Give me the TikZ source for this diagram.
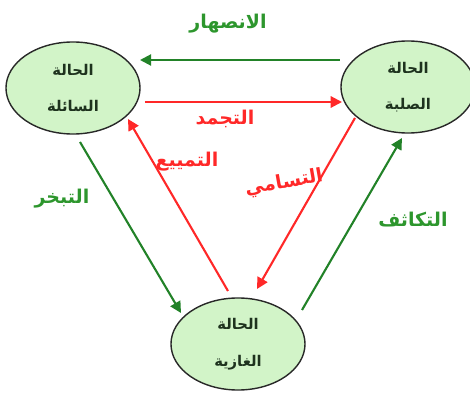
\documentclass[tikz,border=0pt]{standalone}
\usepackage{fontspec}
\newfontfamily\arabicfont[Script=Arabic]{DejaVu Sans}
\TeXXeTstate=1
\usetikzlibrary{calc, positioning}
\usetikzlibrary{arrows.meta}
\usetikzlibrary{shapes.geometric}
\definecolor{statefill}{RGB}{210,244,200}
\definecolor{stateline}{RGB}{40,40,40}
\definecolor{statetext}{RGB}{30,50,30}
\definecolor{heatgreen}{RGB}{34,130,40}
\definecolor{labelgreen}{RGB}{45,150,45}
\definecolor{coolred}{RGB}{255,40,40}

\begin{document}
\begin{tikzpicture}[x=0.025cm, y=-0.025cm,
  state/.style={ellipse, draw=stateline, line width=1pt, fill=statefill,
    minimum width=3.35cm, minimum height=2.3cm, inner sep=0pt,
    align=center, text=statetext,
    font=\arabicfont\bfseries\fontsize{10.5}{26}\selectfont},
  greenarrow/.style={draw=heatgreen, line width=1.5pt,
    -{Triangle[length=8pt,width=8pt]}},
  redarrow/.style={draw=coolred, line width=1.5pt,
    -{Triangle[length=8pt,width=8pt]}},
  greenlabel/.style={text=labelgreen, font=\arabicfont\bfseries\fontsize{13.5}{15}\selectfont},
  redlabel/.style={text=coolred, font=\arabicfont\bfseries\fontsize{13.5}{15}\selectfont}]

\useasboundingbox (0,0) rectangle (470,394);

% states
\node[state] (liquid) at (73,88) {\beginR الحالة\endR\\\beginR السائلة\endR};
\node[state] (solid) at (408,87) {\beginR الحالة\endR\\\beginR الصلبة\endR};
\node[state] (gas) at (238,344) {\beginR الحالة\endR\\\beginR الغازية\endR};

% transitions
\draw[greenarrow] ($(solid.center)+(-68,-27)$) -- ($(liquid.center)+(67,-28)$);
\draw[redarrow] ($(liquid.center)+(72,14)$) -- ($(solid.center)+(-66,15)$);
\draw[greenarrow] ($(liquid.center)+(7,54)$) -- ($(gas.center)+(-57,-31)$);
\draw[redarrow] ($(gas.center)+(-10,-53)$) -- ($(liquid.center)+(55,31)$);
\draw[redarrow] ($(solid.center)+(-53,31)$) -- ($(gas.center)+(19,-55)$);
\draw[greenarrow] ($(gas.center)+(64,-34)$) -- ($(solid.center)+(-6,51)$);

% labels
\node[greenlabel] (melt) at (228,24) {\beginR الانصهار\endR};
\node[redlabel] (freeze) at (225,119) {\beginR التجمد\endR};
\node[redlabel] (liquefy) at (187,162) {\beginR التمييع\endR};
\node[redlabel, rotate=10] (sublime) at (284,183) {\beginR التسامي\endR};
\node[greenlabel] (boil) at (62,199) {\beginR التبخر\endR};
\node[greenlabel] (condense) at (413,220) {\beginR التكاثف\endR};
\end{tikzpicture}
\end{document}
